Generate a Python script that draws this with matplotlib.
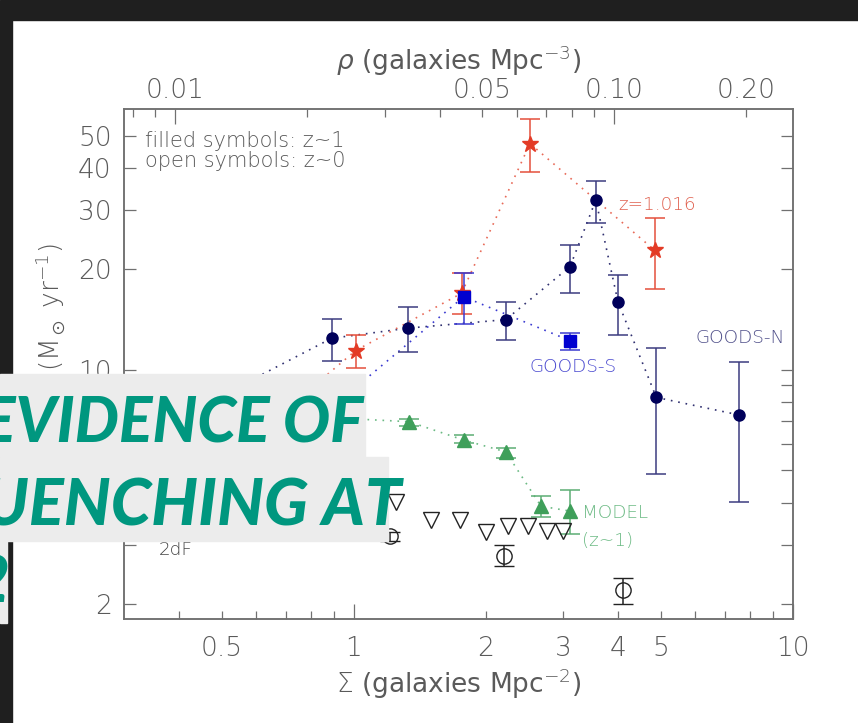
import matplotlib
matplotlib.use("Agg")
import matplotlib.pyplot as plt
from matplotlib.patches import Rectangle
from matplotlib.ticker import FixedLocator, FuncFormatter

W, H = 858, 723

# GOODS-N (z~1), filled circles
goodsn_sigma = [0.52, 0.89, 1.33, 2.22, 3.11, 3.56, 4.00, 4.89, 7.55]
goodsn_sfr = [8.6, 12.4, 13.3, 14.1, 20.3, 32.1, 15.9, 8.26, 7.32]
goodsn_hi = [9.4, 14.15, 15.4, 15.9, 23.5, 36.5, 19.15, 11.57, 10.55]
goodsn_lo = [7.9, 10.63, 11.3, 12.25, 16.96, 27.4, 12.68, 4.87, 4.03]

# GOODS-S, filled squares
goodss_sigma = [0.88, 1.78, 3.11]
goodss_sfr = [7.6, 16.5, 12.2]
goodss_hi = [8.2, 19.4, 12.9]
goodss_lo = [7.0, 13.7, 11.45]

# z=1.016 structure, stars
struct_sigma = [0.75, 1.01, 1.76, 2.52, 4.85]
struct_sfr = [8.2, 11.4, 16.9, 47.3, 22.7]
struct_hi = [8.9, 12.7, 19.4, 56.0, 28.3]
struct_lo = [7.5, 10.1, 14.7, 38.9, 17.4]

# model prediction at z~1, triangles
model_sigma = [0.62, 0.95, 1.335, 1.78, 2.22, 2.67, 3.11]
model_sfr = [7.4, 7.15, 6.99, 6.16, 5.68, 3.91, 3.78]
model_hi = [7.6, 7.3, 7.10, 6.38, 5.84, 4.20, 4.37]
model_lo = [7.2, 7.0, 6.78, 6.02, 5.46, 3.64, 3.24]

# local (z~0) open triangles
local_sigma = [0.5, 0.75, 1.0, 1.25, 1.5, 1.75, 2.0, 2.25, 2.5, 2.75, 3.0]
local_sfr = [4.4, 4.3, 4.15, 4.02, 3.56, 3.56, 3.28, 3.41, 3.41, 3.30, 3.30]

# 2dF open circles
twodf_sigma = [0.6, 1.21, 2.2, 4.1]
twodf_sfr = [3.5, 3.18, 2.78, 2.20]
twodf_hi = [3.65, 3.28, 2.99, 2.38]
twodf_lo = [3.35, 3.08, 2.59, 2.00]

x_ticklabels = [0.5, 1, 2, 3, 4, 5, 10]
y_ticklabels = [2, 10, 20, 30, 40, 50]
rho_ticklabels = [0.01, 0.05, 0.10, 0.20]
rho_per_sigma = 0.0255

NAVY = "#00005a"
BLUE = "#0000d0"
RED = "#e33b26"
GREEN = "#3f9f5a"
GREY = "#5a5a5a"
TEAL = "#00977f"

plt.rcParams["font.family"] = ["DejaVu Sans"]
plt.rcParams["font.weight"] = 200


def fx(x):
    return x / W


def fy(y):
    return 1 - y / H


def yerr(vals, hi, lo):
    return [[v - l for v, l in zip(vals, lo)], [h - v for v, h in zip(vals, hi)]]


fig = plt.figure(figsize=(W / 100, H / 100), dpi=100)
fig.patch.set_facecolor("white")
ax = fig.add_axes([fx(124.3), fy(619), (792.7 - 124.3) / W, (619 - 109) / H])
ax.set_xscale("log")
ax.set_yscale("log")
ax.set_xlim(0.3, 10)
ax.set_ylim(1.8, 60)

dots = (0, (1, 3.5))
ax.plot(goodsn_sigma, goodsn_sfr, ls=dots, color="#303070", lw=1.2, zorder=1)
ax.plot(goodss_sigma, goodss_sfr, ls=dots, color="#3a3ad0", lw=1.2, zorder=1)
ax.plot(struct_sigma, struct_sfr, ls=dots, color="#e86a58", lw=1.2, zorder=1)
ax.plot(model_sigma, model_sfr, ls=dots, color="#6cba84", lw=1.2, zorder=1)

eb = dict(capsize=7, elinewidth=1.1, capthick=1.1, ls="none", zorder=3)
ax.errorbar(goodsn_sigma, goodsn_sfr, yerr=yerr(goodsn_sfr, goodsn_hi, goodsn_lo),
            fmt="o", ms=8, color=NAVY, ecolor="#3c3c80", **eb)
ax.errorbar(struct_sigma, struct_sfr, yerr=yerr(struct_sfr, struct_hi, struct_lo),
            fmt="*", ms=12, color=RED, ecolor="#e4503c", **eb)
ax.errorbar(goodss_sigma, goodss_sfr, yerr=yerr(goodss_sfr, goodss_hi, goodss_lo),
            fmt="s", ms=9, color=BLUE, ecolor="#3a3ad0", **eb)
ax.errorbar(model_sigma, model_sfr, yerr=yerr(model_sfr, model_hi, model_lo),
            fmt="^", ms=9.5, color=GREEN, ecolor="#5cae74", **eb)
ax.errorbar(twodf_sigma, twodf_sfr, yerr=yerr(twodf_sfr, twodf_hi, twodf_lo),
            fmt="o", ms=11, mfc="none", mec="#222222", mew=1.0, ecolor="#222222", **eb)
ax.plot(local_sigma, local_sfr, "v", ms=11.5, mfc="none", mec="#222222", mew=1.0,
        ls="none", zorder=3)

lab = dict(fontsize=13.2, va="center", ha="left")
ax.text(4.0, 31.0, "z=1.016", color="#e0604e", **lab)
ax.text(6.0, 12.4, "GOODS-N", color="#50508a", **lab)
ax.text(2.51, 10.2, "GOODS-S", color="#4a4ad0", **lab)
ax.text(3.31, 3.73, "MODEL", color="#6cba84", **lab)
ax.text(3.31, 3.08, "(z~1)", color="#6cba84", **lab)
ax.text(0.36, 2.89, "2dF", color="#444444", **lab)
ax.text(0.031, 0.9255, "filled symbols: z~1", transform=ax.transAxes,
        fontsize=15, color=GREY, va="baseline")
ax.text(0.031, 0.886, "open symbols: z~0", transform=ax.transAxes,
        fontsize=15, color=GREY, va="baseline")

# axes frame and ticks
for sp in ax.spines.values():
    sp.set_color("#707070")
    sp.set_linewidth(1.1)

ax.xaxis.set_major_locator(FixedLocator([1, 10]))
ax.xaxis.set_minor_locator(FixedLocator([0.4, 0.5, 0.6, 0.7, 0.8, 0.9] + list(range(2, 10))))
fmt_x = FuncFormatter(lambda v, p: ("%g" % v) if any(abs(v - t) < 1e-6 for t in x_ticklabels) else "")
ax.xaxis.set_major_formatter(fmt_x)
ax.xaxis.set_minor_formatter(fmt_x)
ax.yaxis.set_major_locator(FixedLocator([2, 3, 4, 5, 6, 7, 8, 9, 10, 20, 30, 40, 50]))
ax.yaxis.set_minor_locator(FixedLocator([]))
ax.yaxis.set_major_formatter(FuncFormatter(
    lambda v, p: ("%d" % v) if any(abs(v - t) < 1e-6 for t in y_ticklabels) else ""))
ax.tick_params(axis="x", which="major", direction="in", length=11, width=0.9,
               color="#707070", labelsize=19, labelcolor=GREY, pad=12, top=False)
ax.tick_params(axis="x", which="minor", direction="in", length=5.5, width=0.9,
               color="#707070", labelsize=19, labelcolor=GREY, pad=12, top=False)
ax.tick_params(axis="y", which="major", direction="in", length=8.6, width=0.9,
               color="#707070", labelsize=19, labelcolor=GREY, pad=9, right=True)

# density axis along the top
top = ax.twiny()
top.set_xscale("log")
top.set_xlim(0.3 * rho_per_sigma, 10 * rho_per_sigma)
top.xaxis.set_major_locator(FixedLocator([0.01, 0.1]))
top.xaxis.set_minor_locator(FixedLocator([0.008, 0.009, 0.02, 0.03, 0.04, 0.05, 0.06,
                                          0.07, 0.08, 0.09, 0.2]))
fmt_rho = FuncFormatter(lambda v, p: ("%.2f" % v) if any(abs(v - t) < 1e-9 for t in rho_ticklabels) else "")
top.xaxis.set_major_formatter(fmt_rho)
top.xaxis.set_minor_formatter(fmt_rho)
top.tick_params(axis="x", which="major", direction="in", length=11, width=0.9,
                color="#707070", labelsize=19, labelcolor=GREY, pad=4)
top.tick_params(axis="x", which="minor", direction="in", length=5.5, width=0.9,
                color="#707070", labelsize=19, labelcolor=GREY, pad=4)
for sp in top.spines.values():
    sp.set_color("#707070")
    sp.set_linewidth(1.1)
top.set_xlabel(r"$\rho$ (galaxies Mpc$^{-3}$)", fontsize=19, color=GREY, labelpad=6)
ax.set_xlabel(r"$\Sigma$ (galaxies Mpc$^{-2}$)", fontsize=19, color=GREY, labelpad=4)
fig.text(fx(50), fy(371), r"(M$_\odot$ yr$^{-1}$)", rotation=90, ha="center",
         va="bottom", fontsize=19, color=GREY)

# slide frame and title banner
fig.patches.append(Rectangle((0, fy(20)), 1, 20 / H, transform=fig.transFigure,
                             color="#1f1f1f", zorder=5))
fig.patches.append(Rectangle((0, 0), fx(11.5), fy(20), transform=fig.transFigure,
                             color="#1f1f1f", zorder=5))
for x0, y0, x1, y1 in [(0, 374, 365, 457), (0, 457, 388, 541), (0, 541, 7, 623)]:
    fig.patches.append(Rectangle((fx(x0), fy(y1)), fx(x1 - x0), (y1 - y0) / H,
                                 transform=fig.transFigure, color="#ececec", zorder=6))
ban = dict(family=["Lato", "DejaVu Sans"], fontweight="black", fontstyle="italic",
           color=TEAL, ha="right", va="baseline", zorder=7)
fig.text(fx(363), fy(442), "EVIDENCE OF", fontsize=45, **ban)
fig.text(fx(402), fy(525), "QUENCHING AT", fontsize=47, **ban)
fig.text(fx(10), fy(602), "Z~2", fontsize=46, **ban)

fig.savefig("out.png", dpi=100)
